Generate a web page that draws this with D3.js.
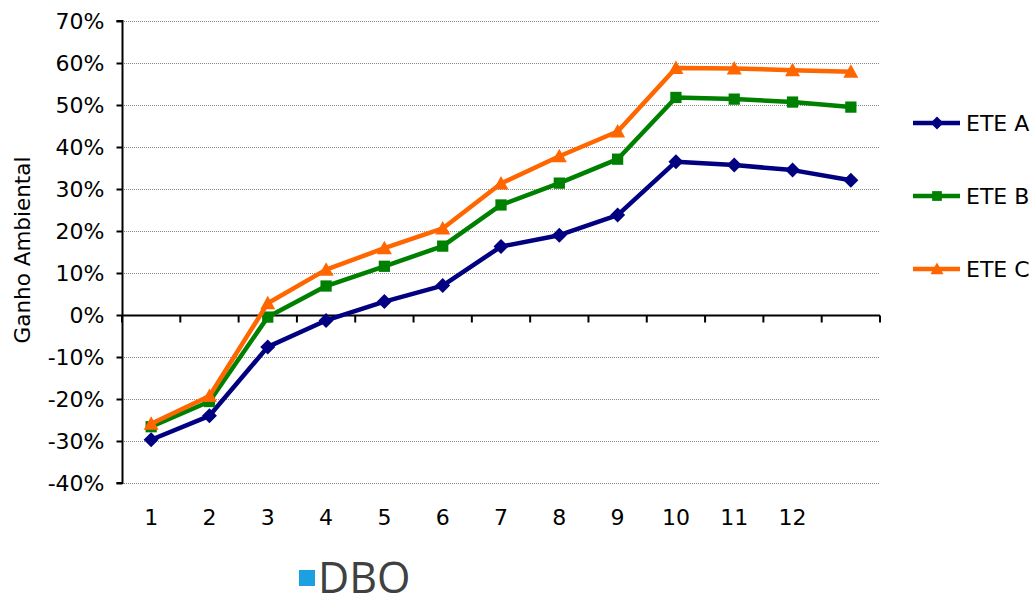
<!DOCTYPE html>
<html><head><meta charset="utf-8">
<script src="https://cdn.jsdelivr.net/npm/d3@7"></script>
<style>body{margin:0;background:#fff}svg{display:block}</style>
</head><body>
<svg id="c" width="1036" height="599"></svg>
<script>
const categories = [1,2,3,4,5,6,7,8,9,10,11,12,13];
const xLabels = ["1","2","3","4","5","6","7","8","9","10","11","12",""];
const eteA = [-29.7,-24.0,-7.6,-1.3,3.2,7.0,16.3,19.0,23.8,36.5,35.7,34.5,32.1];
const eteB = [-26.6,-20.6,-0.5,6.9,11.6,16.4,26.2,31.4,37.1,51.8,51.4,50.7,49.5];
const eteC = [-25.9,-19.3,2.8,10.8,15.9,20.6,31.3,37.8,43.7,58.8,58.7,58.3,57.9];
const yTicks = [-40,-30,-20,-10,0,10,20,30,40,50,60,70];
const seriesNames = ["ETE A","ETE B","ETE C"];
const seriesColors = ["#000080","#008000","#FF6600"];
const seriesShapes = ["diamond","square","triangle"];

const svg = d3.select("#c");
const font = "DejaVu Sans, Verdana, sans-serif";
const fs = 22;
const x = d3.scaleBand().domain(categories).range([122,880]);
const y = d3.scaleLinear().domain([-40,70]).range([483,21]);

// gridlines
svg.append("g").selectAll("line").data(yTicks.filter(d=>d!==0)).join("line")
  .attr("x1",122).attr("x2",880).attr("y1",d=>y(d)+0.5).attr("y2",d=>y(d)+0.5)
  .attr("stroke","#888").attr("stroke-width",1).attr("stroke-dasharray","1,1");

// y axis
const yAxis = d3.axisLeft(y).tickValues(yTicks).tickSize(6).tickPadding(12).tickFormat(d=>d+"%");
const gy = svg.append("g").attr("transform","translate(122.5,0)").call(yAxis);
gy.select(".domain").attr("stroke","#000").attr("stroke-width",2).attr("d","M-6,"+y(70)+"H0V"+y(-40)+"H-6");
gy.selectAll(".tick line").attr("stroke","#000").attr("stroke-width",2);
gy.selectAll(".tick text").attr("font-family",font).attr("font-size",fs).attr("fill","#000")
  .text(d=> d<0 ? "-" + Math.abs(d)+"%" : d+"%");

// x axis at zero
const gx = svg.append("g").attr("transform","translate(0,"+(y(0)+0.5)+")");
gx.append("line").attr("x1",122).attr("x2",880).attr("stroke","#000").attr("stroke-width",2);
const edges = categories.map(c=>x(c)+x.bandwidth()).concat([x(categories[0])]);
gx.selectAll("line.tk").data(edges).join("line").attr("class","tk")
  .attr("x1",d=>d).attr("x2",d=>d).attr("y1",0).attr("y2",7).attr("stroke","#000").attr("stroke-width",2);
// x labels
svg.append("g").selectAll("text").data(categories).join("text")
  .attr("x",d=>x(d)+x.bandwidth()/2).attr("y",525)
  .attr("text-anchor","middle").attr("font-family",font).attr("font-size",fs).attr("fill","#000")
  .text((d,i)=>xLabels[i]);

// axis title
svg.append("text").attr("transform","translate(30,250) rotate(-90)")
  .attr("text-anchor","middle").attr("font-family",font).attr("font-size",21.5).attr("fill","#000")
  .text("Ganho Ambiental");

function marker(sel, shape, color, s){
  if(shape==="diamond") sel.append("path").attr("d",`M0,${-s}L${s},0L0,${s}L${-s},0Z`).attr("fill",color);
  else if(shape==="square") sel.append("rect").attr("x",-s*0.75).attr("y",-s*0.75).attr("width",s*1.5).attr("height",s*1.5).attr("fill",color);
  else sel.append("path").attr("d",`M0,${-s}L${s},${s*0.8}L${-s},${s*0.8}Z`).attr("fill",color);
}

const allSeries = [eteA,eteB,eteC];
const line = d3.line().x((d,i)=>x(categories[i])+x.bandwidth()/2).y(d=>y(d));
allSeries.forEach((vals,k)=>{
  const g = svg.append("g");
  g.append("path").datum(vals).attr("d",line).attr("fill","none")
    .attr("stroke",seriesColors[k]).attr("stroke-width",4.5).attr("stroke-linejoin","round");
  vals.forEach((v,i)=>{
    const m = g.append("g").attr("transform",`translate(${x(categories[i])+x.bandwidth()/2},${y(v)})`);
    marker(m, seriesShapes[k], seriesColors[k], 7.5);
  });
});

// right legend
const legY = [123,196,269];
seriesNames.forEach((n,k)=>{
  const g = svg.append("g");
  g.append("line").attr("x1",913).attr("x2",960).attr("y1",legY[k]).attr("y2",legY[k])
    .attr("stroke",seriesColors[k]).attr("stroke-width",4.5);
  const m = g.append("g").attr("transform",`translate(937,${legY[k]})`);
  marker(m, seriesShapes[k], seriesColors[k], 6.5);
  g.append("text").attr("x",966).attr("y",legY[k]+8).attr("font-family",font).attr("font-size",fs).attr("fill","#000").text(n);
});

// bottom legend
svg.append("rect").attr("x",299).attr("y",570).attr("width",16).attr("height",16).attr("fill","#1BA1E2");
svg.append("text").attr("x",318).attr("y",593).attr("font-family","Open Sans, sans-serif").attr("font-size",43).attr("fill","#404040").text("DBO");
</script>
</body></html>
